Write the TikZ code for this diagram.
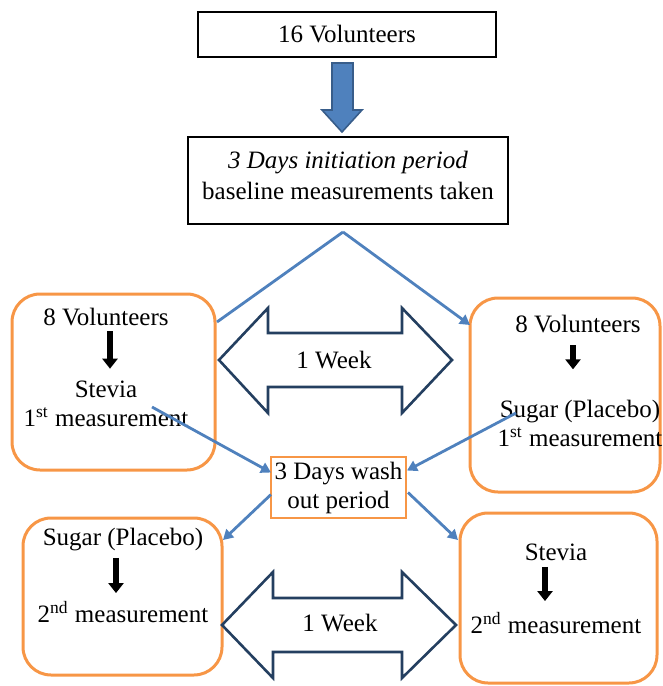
\documentclass[tikz,border=0pt]{standalone}
\usepackage{fontspec}
\setmainfont{Liberation Serif}
\usetikzlibrary{arrows.meta,calc}
\definecolor{boxorange}{HTML}{F79646}
\definecolor{lineblue}{HTML}{4F81BD}
\definecolor{arrowedge}{HTML}{385D8A}
\definecolor{weekedge}{HTML}{243F60}
\tikzstyle{block} = [rectangle, draw, line width=0.7pt, align=center, outer sep=0pt, inner sep=0pt, anchor=north west]
\tikzstyle{roundblock} = [rectangle, draw=boxorange, line width=1.5pt, rounded corners=14pt, outer sep=0pt, inner sep=0pt, anchor=north west]
\tikzstyle{washblock} = [rectangle, draw=boxorange, line width=1.1pt, align=center, outer sep=0pt, inner sep=0pt, anchor=north west]
\tikzstyle{txt} = [align=center, inner sep=0pt]
\tikzstyle{bluearrow} = [draw=lineblue, line width=1.4pt, -{Triangle[length=5pt,width=5.5pt]}]
\tikzstyle{blackarrow} = [draw=black, line width=3pt, -{Triangle[length=5pt,width=7.5pt]}]
\tikzstyle{weekarrow} = [draw=weekedge, line width=1.3pt, fill=white, line join=miter]

\begin{document}
\begin{tikzpicture}[x=0.5pt, y=-0.5pt, font=\fontsize{12.5}{14.5}\selectfont]
    \useasboundingbox (0,0) rectangle (663,686);

    \node[block, minimum width=149pt, minimum height=22.5pt] (vol16) at (198,12) {16 Volunteers};
    \draw[fill=lineblue, draw=arrowedge, line width=0.8pt] (332,63) -- (353,63) -- (353,110) -- (362,110) -- (342,132) -- (322,110) -- (332,110) -- cycle;
    \node[block, minimum width=160pt, minimum height=43.5pt] (init) at (188,137) {};
    \node[txt, font=\fontsize{12.5}{15.5}\selectfont] (inittxt) at (348,175) {\textit{3 Days initiation period}\\baseline measurements taken};
    \coordinate (split) at ($(init.south)+(-5,8)$);

    \node[roundblock, minimum width=101.5pt, minimum height=88pt] (grpA) at (12,294) {};
    \node[roundblock, minimum width=95pt, minimum height=97pt] (grpB) at (470,298) {};
    \node[roundblock, minimum width=99.5pt, minimum height=78.5pt] (grpAb) at (23,518) {};
    \node[roundblock, minimum width=98.5pt, minimum height=85pt] (grpBb) at (460,513) {};
    \node[washblock, minimum width=67.5pt, minimum height=30.5pt] (wash) at (271,457) {3 Days wash\\out period};

    \node[txt] (volA) at (106,317) {8 Volunteers};
    \node[txt] (stevA) at (106,404) {Stevia\\1\textsuperscript{st} measurement};
    \node[txt] (volB) at (578,324) {8 Volunteers};
    \node[txt] (sugB) at (580,423) {Sugar (Placebo)\\1\textsuperscript{st} measurement};
    \node[txt] (sugA) at (123,540) {Sugar (Placebo)};
    \node[txt] (measA) at (123,612) {2\textsuperscript{nd} measurement};
    \node[txt] (stevB) at (556,552) {Stevia};
    \node[txt] (measB) at (556,623) {2\textsuperscript{nd} measurement};

    \draw[blackarrow, shorten <=2.5pt, shorten >=6pt] ([xshift=2pt]volA.south) -- ([xshift=2pt]volA.south |- stevA.north);
    \draw[blackarrow, shorten <=6pt, shorten >=15pt] ([xshift=-2.5pt]volB.south) -- ([xshift=-2.5pt]volB.south |- sugB.north);
    \draw[blackarrow, shorten <=3pt, shorten >=4pt] ([xshift=-3.5pt]sugA.south) -- ([xshift=-3.5pt]sugA.south |- measA.north);
    \draw[blackarrow, shorten <=3pt, shorten >=5.5pt] ([xshift=-5.5pt]stevB.south) -- ([xshift=-5.5pt]stevB.south |- measB.north);

    % 1 week arrows
    \draw[weekarrow] (219,360) -- (268,308) -- (268,333) -- (402,333) -- (402,308) -- (452,360) -- (402,413) -- (402,387) -- (268,387) -- (268,413) -- cycle;
    \node (weekA) at (334,360) {1 Week};
    \draw[weekarrow] (222,625) -- (273,572) -- (273,598) -- (402,598) -- (402,572) -- (456,625) -- (402,678) -- (402,652) -- (273,652) -- (273,678) -- cycle;
    \node (weekB) at (340,623) {1 Week};

    \draw[bluearrow, -] (split) -- ($(grpA.north east)+(2,28)$);
    \draw[bluearrow] (split) -- ($(grpB.north west)+(0,27)$);
    \draw[bluearrow] ($(stevA)+(46,3)$) -- ($(wash.west)+(0,-15)$);
    \draw[bluearrow] ($(sugB)+(-64,-10)$) -- ($(wash.east)+(1,-17)$);
    \draw[bluearrow] ($(wash.west)+(0,7)$) -- ($(grpAb.north east)+(1,22)$);
    \draw[bluearrow] ($(wash.east)+(2,5)$) -- ($(grpBb.north west)+(-2,27)$);
\end{tikzpicture}
\end{document}
